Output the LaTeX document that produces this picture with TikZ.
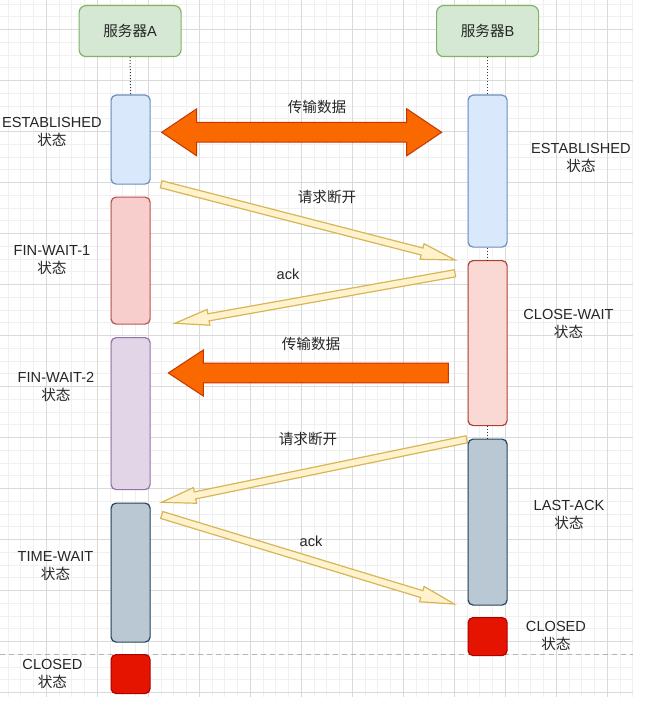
\documentclass[tikz,border=0pt]{standalone}
\usepackage{fontspec}
\setmainfont{Liberation Sans}
\newfontfamily\cjk{Noto Sans CJK SC}
\usetikzlibrary{calc}
\newcommand\zh[1]{{\cjk #1}}
% style, start, end, half body width, half head width, head length
\newcommand\onearrow[6]{%
  \coordinate (arrH) at ($(#3)!#6!(#2)$);
  \draw[#1] ($(#2)!#4!90:(#3)$) -- ($(arrH)!#4!90:(#3)$) -- ($(arrH)!#5!90:(#3)$) -- (#3)
    -- ($(arrH)!#5!-90:(#3)$) -- ($(arrH)!#4!-90:(#3)$) -- ($(#2)!#4!-90:(#3)$) -- cycle;}
\newcommand\twoarrow[6]{%
  \coordinate (arrHa) at ($(#2)!#6!(#3)$);
  \coordinate (arrHb) at ($(#3)!#6!(#2)$);
  \draw[#1] (#2) -- ($(arrHa)!#5!90:(#3)$) -- ($(arrHa)!#4!90:(#3)$) -- ($(arrHb)!#4!90:(#3)$)
    -- ($(arrHb)!#5!90:(#3)$) -- (#3) -- ($(arrHb)!#5!-90:(#3)$) -- ($(arrHb)!#4!-90:(#3)$)
    -- ($(arrHa)!#4!-90:(#3)$) -- ($(arrHa)!#5!-90:(#3)$) -- cycle;}
\definecolor{gridmin}{HTML}{F0F0F0}
\definecolor{gridmaj}{HTML}{DADADA}
\definecolor{hdrfill}{HTML}{D5E8D4}\definecolor{hdrline}{HTML}{82B366}
\definecolor{bluefill}{HTML}{DAE8FC}\definecolor{blueline}{HTML}{6C8EBF}
\definecolor{redfill}{HTML}{F8CECC}\definecolor{redline}{HTML}{B85450}
\definecolor{red2fill}{HTML}{FAD9D5}\definecolor{red2line}{HTML}{AE4132}
\definecolor{purfill}{HTML}{E1D5E7}\definecolor{purline}{HTML}{9673A6}
\definecolor{grayfill}{HTML}{BAC8D3}\definecolor{grayline}{HTML}{23445D}
\definecolor{closefill}{HTML}{E51400}\definecolor{closeline}{HTML}{B20000}
\definecolor{orfill}{HTML}{FA6800}\definecolor{orline}{HTML}{C73500}
\definecolor{yefill}{HTML}{FFF2CC}\definecolor{yeline}{HTML}{D6B656}
\definecolor{dashgray}{HTML}{B3B3B3}
\tikzset{
  txt/.style={font=\fontsize{14.6}{18}\selectfont, align=center, inner sep=0pt, text=black!85},
  hdr/.style={draw=hdrline, fill=hdrfill, line width=1.2pt, rounded corners=7pt, minimum width=102pt, minimum height=51pt, inner sep=0pt, anchor=north west, txt},
  bar/.style={line width=1.2pt, rounded corners=5pt, minimum width=39pt, inner sep=0pt, anchor=north west},
  life/.style={line width=1pt, dotted, black!80},
  orangearrow/.style={fill=orfill, draw=orline, line width=1pt, line join=miter},
  yellowarrow/.style={fill=yefill, draw=yeline, line width=1.2pt, line join=miter},
  dashline/.style={draw=dashgray, line width=1pt, dash pattern=on 5pt off 4pt},
}
\begin{document}
\begin{tikzpicture}[x=1pt, y=-1pt]
\useasboundingbox (0,0) rectangle (645,706);
\fill[white] (0,0) rectangle (645,706);
% grid
\begin{scope}
\clip (0,0) rectangle (633,697);
\foreach \i in {0,...,49} {\draw[gridmin, line width=0.8pt] ({8.05+12.75*\i},0) -- ({8.05+12.75*\i},697);}
\foreach \i in {0,...,55} {\draw[gridmin, line width=0.8pt] (0,{4+12.75*\i}) -- (633,{4+12.75*\i});}
\foreach \i in {0,...,12} {\draw[gridmaj, line width=0.8pt] ({-4.7+51*\i},0) -- ({-4.7+51*\i},697);}
\foreach \i in {0,...,13} {\draw[gridmaj, line width=0.8pt] (0,{29.5+51*\i}) -- (633,{29.5+51*\i});}
\end{scope}
% dashed separator
\coordinate (dl) at (0,654.5);
\coordinate (dr) at (633,654.5);
\draw[dashline] (dl) -- (dr);
% headers
\node[hdr] (srvA) at (78.5,5) {\zh{服务器}A};
\node[hdr] (srvB) at (436,5) {\zh{服务器}B};
% bars A
\node[bar, draw=blueline, fill=bluefill, minimum height=89pt] (estA) at (110.5,94.5) {};
\node[bar, draw=redline, fill=redfill, minimum height=127pt] (fw1) at (110.5,196.5) {};
\node[bar, draw=purline, fill=purfill, minimum height=152pt] (fw2) at (110.5,337) {};
\node[bar, draw=grayline, fill=grayfill, minimum height=139pt] (tw) at (110.5,502.5) {};
\node[bar, draw=closeline, fill=closefill, minimum height=39pt] (clA) at (110.5,654) {};
% bars B
\node[bar, draw=blueline, fill=bluefill, minimum height=152pt] (estB) at (467.5,94.5) {};
\node[bar, draw=red2line, fill=red2fill, minimum height=165pt] (cw) at (467.5,260) {};
\node[bar, draw=grayline, fill=grayfill, minimum height=166pt] (la) at (467.5,438.5) {};
\node[bar, draw=closeline, fill=closefill, minimum height=38pt] (clB) at (467.5,617) {};
% lifelines
\draw[life] (srvA.south) -- (estA.north);
\draw[life] (srvB.south) -- (estB.north);
\draw[life] (estB.south) -- (cw.north);
\draw[life] (cw.south) -- (la.north);
% state labels
\node[txt] (lEstA) at (52,132) {ESTABLISHED\\\zh{状态}};
\node[txt] (lFw1) at (52,260) {FIN-WAIT-1\\\zh{状态}};
\node[txt] (lFw2) at (56,387) {FIN-WAIT-2\\\zh{状态}};
\node[txt] (lTw) at (55.5,566) {TIME-WAIT\\\zh{状态}};
\node[txt] (lClA) at (52.5,674) {CLOSED\\\zh{状态}};
\node[txt] (lEstB) at (581,158) {ESTABLISHED\\\zh{状态}};
\node[txt] (lCw) at (568.5,324) {CLOSE-WAIT\\\zh{状态}};
\node[txt] (lLa) at (569,515) {LAST-ACK\\\zh{状态}};
\node[txt] (lClB) at (556,636) {CLOSED\\\zh{状态}};
% arrows
\coordinate (d1a) at (161.7,132.3);
\coordinate (d1b) at (441.7,132.3);
\twoarrow{orangearrow}{d1a}{d1b}{9.8pt}{23.5pt}{35pt}
\coordinate (o2a) at (448.3,373);
\coordinate (o2b) at (168.3,373);
\onearrow{orangearrow}{o2a}{o2b}{9.8pt}{23pt}{35pt}
\coordinate (y1a) at (161.2,184.3);
\coordinate (y1b) at (455,260);
\onearrow{yellowarrow}{y1a}{y1b}{3.6pt}{8pt}{34pt}
\coordinate (y2a) at (455,273.3);
\coordinate (y2b) at (175,323.3);
\onearrow{yellowarrow}{y2a}{y2b}{3.6pt}{8pt}{34pt}
\coordinate (y3a) at (466.7,439.3);
\coordinate (y3b) at (161.7,502.3);
\onearrow{yellowarrow}{y3a}{y3b}{3.6pt}{8pt}{34pt}
\coordinate (y4a) at (161.7,515);
\coordinate (y4b) at (454.3,604);
\onearrow{yellowarrow}{y4a}{y4b}{3.6pt}{8pt}{34pt}
% arrow labels
\node[txt] (t1) at (317,107) {\zh{传输数据}};
\node[txt] (t2) at (327,197) {\zh{请求断开}};
\node[txt] (t3) at (288,274) {ack};
\node[txt] (t4) at (311,344) {\zh{传输数据}};
\node[txt] (t5) at (308,439) {\zh{请求断开}};
\node[txt] (t6) at (311,541) {ack};
\end{tikzpicture}
\end{document}
